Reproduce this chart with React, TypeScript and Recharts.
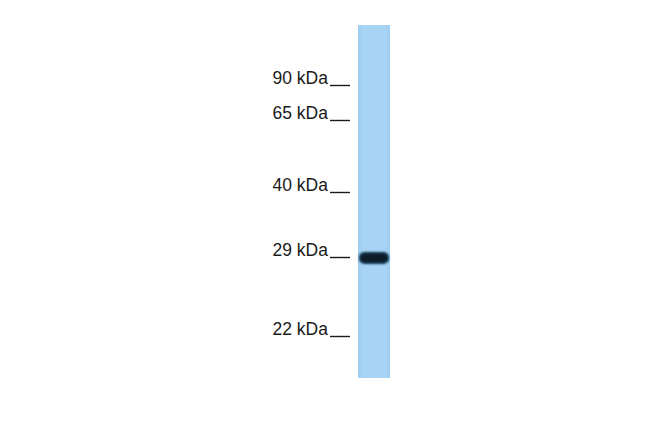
import React from "react";
import {
  ComposedChart,
  Bar,
  Scatter,
  XAxis,
  YAxis,
} from "recharts";

// migration distance from the top of the lane (px-like units)
const markerLabels = ["90 kDa", "65 kDa", "40 kDa", "29 kDa", "22 kDa"];
const markerMobility = [60, 95, 167, 232, 311];
const lanes = ["Lane 1"];
const laneLength = [353];
const bandMobility = [233];

const data = lanes.map((lane, i) => ({
  lane,
  length: laneLength[i],
  band: bandMobility[i],
}));

const labelFor = (v: number) => {
  const i = markerMobility.indexOf(v);
  return i >= 0 ? markerLabels[i] : "";
};

const MarkerTick = (props: any) => {
  const { x, y, payload } = props;
  return (
    <g>
      <text
        x={x - 22}
        y={y - 1}
        textAnchor="end"
        fontFamily="Liberation Sans, Arial, sans-serif"
        fontSize={17.5}
        fill="#1a1a1a"
      >
        {labelFor(payload.value)}
      </text>
      <line x1={x - 20} x2={x} y1={y + 0.5} y2={y + 0.5} stroke="#1a1a1a" strokeWidth={1.4} />
    </g>
  );
};

const BandShape = (props: any) => {
  const { cx, cy } = props;
  return (
    <g>
      <rect
        x={cx - 15}
        y={cy - 6}
        width={30}
        height={12}
        rx={6}
        ry={5}
        fill="#16384d"
        filter="url(#bandBlur)"
      />
      <rect
        x={cx - 13}
        y={cy - 4}
        width={26}
        height={8}
        rx={4}
        fill="#071a26"
        filter="url(#bandBlur)"
      />
    </g>
  );
};

export default function App() {
  return (
    <div style={{ position: "absolute", left: 0, top: 0, background: "#fff" }}>
      <ComposedChart
        width={650}
        height={433}
        data={data}
        margin={{ top: 25, right: 260, bottom: 55, left: 0 }}
        barCategoryGap={0}
      >
        <defs>
          <filter id="bandBlur" x="-30%" y="-60%" width="160%" height="220%">
            <feGaussianBlur stdDeviation="1.2" />
          </filter>
          <linearGradient id="laneFill" x1="0" y1="0" x2="1" y2="0">
            <stop offset="0%" stopColor="#9ccdf0" />
            <stop offset="15%" stopColor="#a7d4f4" />
            <stop offset="85%" stopColor="#a7d4f4" />
            <stop offset="100%" stopColor="#9ccdf0" />
          </linearGradient>
        </defs>
        <XAxis dataKey="lane" type="category" hide />
        <YAxis
          type="number"
          domain={[0, 353]}
          reversed
          width={358}
          ticks={markerMobility}
          interval={0}
          axisLine={false}
          tickLine={false}
          tick={<MarkerTick />}
        />
        <Bar dataKey="length" fill="url(#laneFill)" isAnimationActive={false} />
        <Scatter dataKey="band" shape={<BandShape />} isAnimationActive={false} />
      </ComposedChart>
    </div>
  );
}
